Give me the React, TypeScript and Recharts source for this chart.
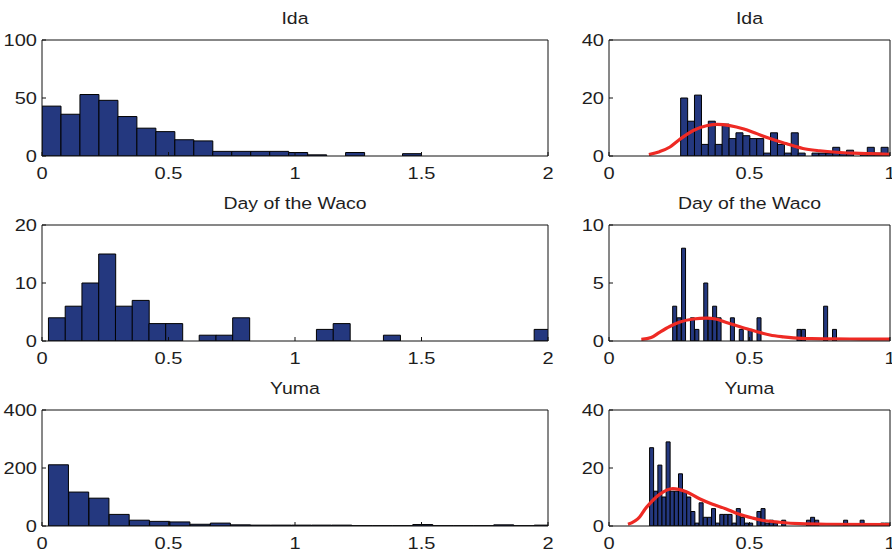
import React from 'react';
import { ComposedChart, Bar, Line, XAxis, YAxis } from 'recharts';

// ---------------- data ----------------
const titles = ['Ida', 'Day of the Waco', 'Yuma'];

// left column: histograms on 0..2
const idaLeftStart = 0;
const idaLeftWidth = 0.075;
const idaLeftCounts = [43, 36, 53, 48, 34, 24, 21, 14, 13, 4, 4, 4, 4, 3, 1, 0, 3, 0, 0, 2];

const wacoLeftStart = 0.0255;
const wacoLeftWidth = 0.0662;
const wacoLeftCounts = [4, 6, 10, 15, 6, 7, 3, 3, 0, 1, 1, 4, 0, 0, 0, 0, 2, 3, 0, 0, 1, 0, 0, 0, 0, 0, 0, 0, 0, 2];

const yumaLeftStart = 0.0255;
const yumaLeftWidth = 0.08;
const yumaLeftCounts = [211, 117, 96, 40, 20, 16, 14, 6, 10, 4, 3, 3, 3, 3, 3, 1, 1, 1, 5, 1, 1, 1, 4, 1, 3];

// right column: finer histograms on 0..1
const idaRightStart = 0.255;
const idaRightWidth = 0.0246;
const idaRightCounts = [20, 12, 21, 4, 12, 4, 11, 6, 8, 7, 6, 6, 1, 8, 4, 1, 8, 1, 0, 1, 1, 1, 3, 1, 2, 0, 1, 3, 1, 3];

const wacoRightStart = 0.2266;
const wacoRightWidth = 0.0158;
const wacoRightCounts = [3, 2, 8, 0, 2, 1, 0, 5, 2, 3, 2, 0, 0, 2, 0, 1, 0, 1, 0, 2, 0, 0, 0, 0, 0, 0, 0, 0, 1, 1, 0, 0, 0, 0, 3, 0, 1];

const yumaRightStart = 0.1445;
const yumaRightWidth = 0.01469;
const yumaRightCounts = [
  27, 12, 21, 10, 29, 12, 12, 18, 12, 10,
  5, 1, 8, 3, 3, 6, 1, 4, 4, 4,
  1, 6, 3, 1, 1, 0, 5, 6, 1, 2,
  1, 0, 2, 0, 0, 0, 0, 0, 2, 3,
  2, 0, 0, 0, 0, 0, 0, 2, 0, 0,
  0, 2, 0, 0, 0, 0, 1, 1,
];

// fitted density curves (scaled to counts)
const idaCurveX = [0.142, 0.18, 0.217, 0.25, 0.3, 0.35, 0.385, 0.43, 0.48, 0.52, 0.573, 0.63, 0.69, 0.75, 0.81, 0.87, 0.93, 1.0];
const idaCurveY = [0.5, 1.5, 3.1, 5.6, 8.8, 10.5, 10.9, 10.5, 9.3, 7.9, 6.0, 4.3, 2.6, 1.8, 1.3, 1.0, 0.8, 0.6];

const wacoCurveX = [0.115, 0.15, 0.18, 0.216, 0.25, 0.3, 0.347, 0.38, 0.418, 0.45, 0.49, 0.53, 0.573, 0.62, 0.656, 0.72, 0.8, 0.9, 1.0];
const wacoCurveY = [0.14, 0.3, 0.75, 1.25, 1.62, 1.9, 1.98, 1.9, 1.6, 1.35, 1.05, 0.78, 0.52, 0.36, 0.27, 0.2, 0.18, 0.17, 0.17];

const yumaCurveX = [0.0675, 0.109, 0.128, 0.145, 0.18, 0.227, 0.275, 0.322, 0.366, 0.417, 0.461, 0.512, 0.544, 0.607, 0.678, 0.773, 1.0];
const yumaCurveY = [0.6, 3.1, 5.8, 7.7, 10.9, 12.9, 11.8, 9.4, 7.6, 5.9, 4.1, 2.7, 2.0, 1.3, 0.8, 0.6, 0.5];

const leftXTicks = [0, 0.5, 1, 1.5, 2];
const rightXTicks = [0, 0.5, 1];
const idaLeftYTicks = [0, 50, 100];
const wacoLeftYTicks = [0, 10, 20];
const yumaLeftYTicks = [0, 200, 400];
const idaRightYTicks = [0, 20, 40];
const wacoRightYTicks = [0, 5, 10];
const yumaRightYTicks = [0, 20, 40];

// ---------------- helpers ----------------
const binsToRows = (start: number, width: number, counts: number[]) =>
  counts.map((n, i) => ({ x: start + (i + 0.5) * width, n }));
const curveRows = (xs: number[], ys: number[]) => xs.map((x, i) => ({ x, y: ys[i] }));

const FONT = '"Liberation Sans", Arial, Helvetica, sans-serif';
const TEXT = '#1e1e1e';
const STRETCH = 1.18;
const BAR_FILL = '#24387f';
const RED = '#ee2a24';
const FRAME = '#111';

const YAXIS_W = 42;
const CHART_PAD_TOP = 10; // space above the plot (incl. 1px top axis)
const PLOT_H = 116;
const XAXIS_H = 25;
const ROW_PLOT_TOPS = [40, 225, 410];
const LEFT_CHART_X = 0;
const LEFT_CHART_W = 562; // plot 42..548
const LEFT_MARGIN_R = 13;
const RIGHT_CHART_X = 567;
const RIGHT_CHART_W = 325; // plot 609..890
const RIGHT_MARGIN_R = 1;

const XTick = (props: any) => {
  const { x, y, payload } = props;
  return (
    <text
      x={x}
      y={y}
      textAnchor="middle"
      fontSize={17}
      fontFamily={FONT}
      fill={TEXT}
      transform={`translate(${x} 0) scale(${STRETCH} 1) translate(${-x} 0)`}
    >
      {payload.value}
    </text>
  );
};

const YTick = (props: any) => {
  const { x, y, payload } = props;
  return (
    <text
      x={x}
      y={y + 6}
      textAnchor="end"
      fontSize={17}
      fontFamily={FONT}
      fill={TEXT}
      transform={`translate(${x} 0) scale(${STRETCH} 1) translate(${-x} 0)`}
    >
      {payload.value}
    </text>
  );
};

type PanelProps = {
  left: number;
  top: number;
  width: number;
  marginRight: number;
  rows: { x: number; n: number }[];
  curve?: { x: number; y: number }[];
  xMax: number;
  xTicks: number[];
  yMax: number;
  yTicks: number[];
};

const Panel = ({ left, top, width, marginRight, rows, curve, xMax, xTicks, yMax, yTicks }: PanelProps) => (
  <div style={{ position: 'absolute', left, top }}>
    <ComposedChart
      width={width}
      height={CHART_PAD_TOP + PLOT_H + XAXIS_H}
      data={rows}
      margin={{ top: CHART_PAD_TOP - 1, right: marginRight, bottom: 0, left: 0 }}
      barCategoryGap={0}
      barGap={0}
    >
      <XAxis
        xAxisId="b"
        dataKey="x"
        type="number"
        domain={[0, xMax]}
        allowDataOverflow
        ticks={xTicks}
        interval={0}
        height={XAXIS_H}
        tickSize={-4}
        tickMargin={26.6}
        tick={<XTick />}
        axisLine={{ stroke: FRAME, strokeWidth: 1 }}
        tickLine={{ stroke: FRAME, strokeWidth: 1 }}
      />
      <XAxis
        xAxisId="t"
        orientation="top"
        dataKey="x"
        type="number"
        domain={[0, xMax]}
        allowDataOverflow
        ticks={xTicks}
        interval={0}
        height={1}
        tickSize={-4}
        tick={false}
        axisLine={{ stroke: FRAME, strokeWidth: 1 }}
        tickLine={{ stroke: FRAME, strokeWidth: 1 }}
      />
      <YAxis
        yAxisId="l"
        type="number"
        domain={[0, yMax]}
        allowDataOverflow
        ticks={yTicks}
        interval={0}
        width={YAXIS_W}
        tickSize={-4}
        tickMargin={9}
        tick={<YTick />}
        axisLine={{ stroke: FRAME, strokeWidth: 1 }}
        tickLine={{ stroke: FRAME, strokeWidth: 1 }}
      />
      <YAxis
        yAxisId="r"
        orientation="right"
        type="number"
        domain={[0, yMax]}
        allowDataOverflow
        ticks={yTicks}
        interval={0}
        width={1}
        tickSize={-4}
        tick={false}
        axisLine={{ stroke: FRAME, strokeWidth: 1 }}
        tickLine={{ stroke: FRAME, strokeWidth: 1 }}
      />
      <Bar
        xAxisId="b"
        yAxisId="l"
        dataKey="n"
        fill={BAR_FILL}
        stroke="#000"
        strokeWidth={1}
        isAnimationActive={false}
      />
      {curve ? (
        <Line
          xAxisId="t"
          yAxisId="r"
          data={curve}
          dataKey="y"
          type="monotone"
          stroke={RED}
          strokeWidth={3.2}
          dot={false}
          activeDot={false}
          isAnimationActive={false}
        />
      ) : null}
    </ComposedChart>
  </div>
);

const leftPanels = [
  { rows: binsToRows(idaLeftStart, idaLeftWidth, idaLeftCounts), yMax: 100, yTicks: idaLeftYTicks },
  { rows: binsToRows(wacoLeftStart, wacoLeftWidth, wacoLeftCounts), yMax: 20, yTicks: wacoLeftYTicks },
  { rows: binsToRows(yumaLeftStart, yumaLeftWidth, yumaLeftCounts), yMax: 400, yTicks: yumaLeftYTicks },
];

const rightPanels = [
  { rows: binsToRows(idaRightStart, idaRightWidth, idaRightCounts), curve: curveRows(idaCurveX, idaCurveY), yMax: 40, yTicks: idaRightYTicks },
  { rows: binsToRows(wacoRightStart, wacoRightWidth, wacoRightCounts), curve: curveRows(wacoCurveX, wacoCurveY), yMax: 10, yTicks: wacoRightYTicks },
  { rows: binsToRows(yumaRightStart, yumaRightWidth, yumaRightCounts), curve: curveRows(yumaCurveX, yumaCurveY), yMax: 40, yTicks: yumaRightYTicks },
];

const LEFT_CENTER = 295;
const RIGHT_CENTER = 749.5;

export default function App() {
  return (
    <div
      style={{
        position: 'absolute',
        left: 0,
        top: 0,
        width: 892,
        height: 551,
        overflow: 'hidden',
        background: '#fff',
      }}
    >
      {leftPanels.map((p, i) => (
        <Panel
          key={`l${i}`}
          left={LEFT_CHART_X}
          top={ROW_PLOT_TOPS[i] - CHART_PAD_TOP}
          width={LEFT_CHART_W}
          marginRight={LEFT_MARGIN_R}
          rows={p.rows}
          xMax={2}
          xTicks={leftXTicks}
          yMax={p.yMax}
          yTicks={p.yTicks}
        />
      ))}
      {rightPanels.map((p, i) => (
        <Panel
          key={`r${i}`}
          left={RIGHT_CHART_X}
          top={ROW_PLOT_TOPS[i] - CHART_PAD_TOP}
          width={RIGHT_CHART_W}
          marginRight={RIGHT_MARGIN_R}
          rows={p.rows}
          curve={p.curve}
          xMax={1}
          xTicks={rightXTicks}
          yMax={p.yMax}
          yTicks={p.yTicks}
        />
      ))}
      <svg
        width={892}
        height={551}
        style={{ position: 'absolute', left: 0, top: 0, pointerEvents: 'none' }}
      >
        {titles.map((t, i) =>
          [LEFT_CENTER, RIGHT_CENTER].map((cx) => (
            <text
              key={`${t}-${cx}`}
              x={cx}
              y={ROW_PLOT_TOPS[i] - 15.5}
              textAnchor="middle"
              fontSize={16.5}
              fontFamily={FONT}
              fill={TEXT}
              transform={`translate(${cx} 0) scale(${STRETCH} 1) translate(${-cx} 0)`}
            >
              {t}
            </text>
          ))
        )}
      </svg>
    </div>
  );
}
